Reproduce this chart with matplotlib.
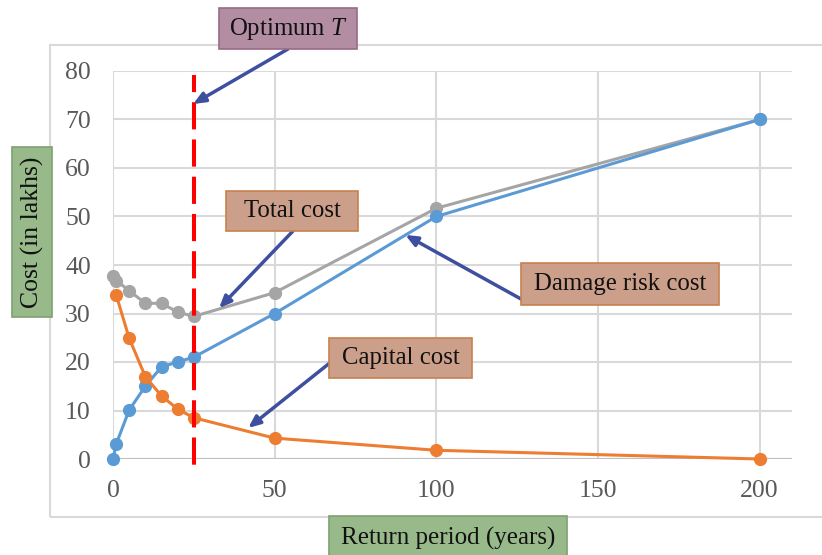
import numpy as np
import matplotlib
matplotlib.use('Agg')
import matplotlib.pyplot as plt
from matplotlib.patches import Rectangle

# data
x_damage = [0, 1, 5, 10, 15, 20, 25, 50, 100, 200]
damage_cost = [0, 3.1, 10.1, 15.0, 19.0, 20.0, 21.0, 30.0, 50.0, 70.0]
x_capital = [1, 5, 10, 15, 20, 25, 50, 100, 200]
capital_cost = [33.8, 24.9, 17.0, 13.0, 10.3, 8.5, 4.3, 1.8, 0.0]
x_total = [0, 1, 5, 10, 15, 20, 25, 50, 100, 200]
total_cost = [37.7, 36.8, 34.7, 32.1, 32.1, 30.3, 29.4, 34.3, 51.7, 70.0]
t_opt = 25

W, H = 822, 555
plt.rcParams['font.family'] = ['Liberation Serif', 'DejaVu Serif']
plt.rcParams['mathtext.fontset'] = 'custom'
plt.rcParams['mathtext.rm'] = 'Liberation Serif'
plt.rcParams['mathtext.it'] = 'Liberation Serif:italic'

fig = plt.figure(figsize=(W / 100, H / 100), dpi=100)

def fx(px):
    return px / W

def fy(py):
    return 1 - py / H

# outer chart border
fig.add_artist(Rectangle((fx(50), fy(517)), fx(840) - fx(50), fy(45) - fy(517),
                         transform=fig.transFigure, fill=False,
                         edgecolor='#d9d9d9', lw=1.5))

ax = fig.add_axes([fx(113), fy(459), fx(792) - fx(113), fy(71) - fy(459)])
ax.set_xlim(0, 210)
ax.set_ylim(0, 80)
ax.set_xticks([0, 50, 100, 150, 200])
ax.set_yticks(np.arange(0, 81, 10))
ax.grid(True, color='#d9d9d9', lw=1.5)
ax.set_axisbelow(True)
for s in ax.spines.values():
    s.set_visible(False)
ax.tick_params(length=0, labelsize=18.5, labelcolor='#595959')
ax.tick_params(axis='x', pad=15)
ax.tick_params(axis='y', pad=16)
ax.axhline(0, color='#bfbfbf', lw=1.5, zorder=1)

ax.plot(x_total, total_cost, '-o', color='#a5a5a5', lw=2.2, ms=8.5, zorder=3, clip_on=False)
ax.plot(x_damage, damage_cost, '-o', color='#5b9bd5', lw=2.2, ms=8.5, zorder=4, clip_on=False)
ax.plot(x_capital, capital_cost, '-o', color='#ed7d31', lw=2.2, ms=8.5, zorder=5, clip_on=False)
# optimum return period, dashed from the top down
ax.plot([t_opt, t_opt], [79.2, -1.5], color='#ff0000', lw=2.9, ls=(2.5, (6.75, 2.5)),
        zorder=6, clip_on=False)

def box(x0, y0, x1, y1, text, face, edge, rot=0, fs=17.8):
    fig.add_artist(Rectangle((fx(x0), fy(y1)), fx(x1) - fx(x0), fy(y0) - fy(y1),
                             transform=fig.transFigure, facecolor=face,
                             edgecolor=edge, lw=1.2, zorder=10))
    fig.text(fx((x0 + x1) / 2), fy((y0 + y1) / 2), text, ha='center', va='center',
             rotation=rot, fontsize=fs, color='#111111', zorder=11)

def arrow(tail_px, head_data):
    ax.annotate('', xy=head_data, xycoords='data',
                xytext=(fx(tail_px[0]), fy(tail_px[1])), textcoords='figure fraction',
                arrowprops=dict(arrowstyle='-|>,head_length=0.7,head_width=0.3',
                                color='#3f4fa0', lw=2.5, shrinkA=0, shrinkB=0),
                annotation_clip=False, zorder=9)

box(219, 8, 357, 49, 'Optimum $T$', '#b38da2', '#9a6b85')
arrow((288, 49), (24.8, 73.2))
box(226, 191, 358, 231, 'Total cost', '#cb9f8a', '#c8804f')
arrow((293, 231), (32.8, 31.1))
box(329, 338, 472, 378, 'Capital cost', '#cb9f8a', '#c8804f')
arrow((331, 362), (41.8, 6.4))
box(521, 263, 719, 305, 'Damage risk cost', '#cb9f8a', '#c8804f')
arrow((521, 299), (90.4, 46.2))

box(12, 147, 52, 317, 'Cost (in lakhs)', '#98b98a', '#7fa070', rot=90, fs=18.5)
box(329, 516, 567, 560, 'Return period (years)', '#98b98a', '#7fa070', fs=18)

plt.savefig('out.png', dpi=100)
